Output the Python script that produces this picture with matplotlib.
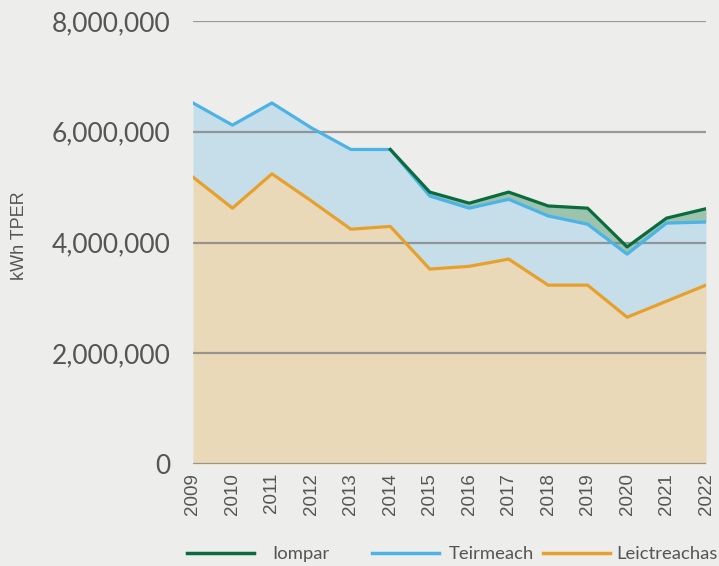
import numpy as np
import matplotlib
matplotlib.use('Agg')
import matplotlib.pyplot as plt
from matplotlib.ticker import FuncFormatter
from matplotlib.lines import Line2D

plt.rcParams['font.family'] = ['Lato', 'DejaVu Sans']

years = [2009, 2010, 2011, 2012, 2013, 2014, 2015, 2016, 2017, 2018, 2019, 2020, 2021, 2022]
leictreachas = [5180000, 4620000, 5240000, 4750000, 4240000, 4290000, 3520000,
                3570000, 3700000, 3230000, 3230000, 2650000, 2940000, 3230000]
teirmeach = [1340000, 1500000, 1280000, 1320000, 1440000, 1390000, 1320000,
             1050000, 1080000, 1250000, 1100000, 1140000, 1410000, 1140000]
iompar = [np.nan, np.nan, np.nan, np.nan, np.nan, 0, 70000,
          90000, 130000, 180000, 290000, 130000, 90000, 240000]

bg = '#ededeb'
c_green, f_green = '#0b6b3d', '#9cc3ae'
c_blue, f_blue = '#4bb3e6', '#c5deea'
c_orange, f_orange = '#e8a02c', '#e9d9b9'

x = np.array(years)
l1 = np.array(leictreachas, dtype=float)
l2 = l1 + np.array(teirmeach, dtype=float)
io = np.array(iompar, dtype=float)
l3 = l2 + np.nan_to_num(io)
l3_line = l2 + io

fig = plt.figure(figsize=(7.19, 5.66), dpi=100, facecolor=bg)
ax = fig.add_axes([193 / 719, 1 - 464 / 566, 513 / 719, 443 / 566])
ax.set_facecolor(bg)

ax.fill_between(x, 0, l1, color=f_orange, lw=0, zorder=1)
ax.fill_between(x, l1, l2, color=f_blue, lw=0, zorder=1)
ax.fill_between(x, l2, l3, color=f_green, lw=0, zorder=1)

for v in [0, 2e6, 4e6, 6e6, 8e6]:
    ax.axhline(v, color='#7d7d7d', alpha=0.75, lw=1.6, zorder=2)

ax.plot(x, l1, color=c_orange, lw=2.3, zorder=3)
ax.plot(x, l2, color=c_blue, lw=2.3, zorder=4)
ax.plot(x, l3_line, color=c_green, lw=2.3, zorder=5)

ax.set_xlim(2009, 2022)
ax.set_ylim(0, 8e6)
ax.set_yticks([0, 2e6, 4e6, 6e6, 8e6])
ax.yaxis.set_major_formatter(FuncFormatter(lambda v, p: f'{int(v):,}'))
ax.set_xticks(years)
ax.set_xticklabels([str(y) for y in years], rotation=90,
                   family=['Liberation Sans', 'DejaVu Sans'])
ax.tick_params(axis='y', length=0, pad=16, labelsize=19, labelcolor='#555555')
ax.tick_params(axis='x', length=0, pad=6.5, labelsize=13.5, labelcolor='#555555')
for s in ax.spines.values():
    s.set_visible(False)

fig.text(20 / 719, 1 - 236 / 566, 'kWh TPER', rotation=90, ha='center', va='center',
         fontsize=13, color='#555555', family=['Liberation Sans', 'DejaVu Sans'])

# legend entries placed one by one, as in the original layout
entries = [('Iompar', c_green, 187, 1.03),
           ('Teirmeach', c_blue, 372, 0.54),
           ('Leictreachas', c_orange, 543, 0.38)]
for label, col, x0, tp in entries:
    fig.legend([Line2D([], [], color=col, lw=2.5)], [label], frameon=False,
               loc='center left', bbox_to_anchor=(x0 / 719, 1 - 554 / 566),
               fontsize=13.3, labelcolor='#555555', handlelength=3.6,
               handletextpad=tp, borderpad=0, borderaxespad=0)

fig.savefig('out.png', dpi=100, facecolor=bg)
